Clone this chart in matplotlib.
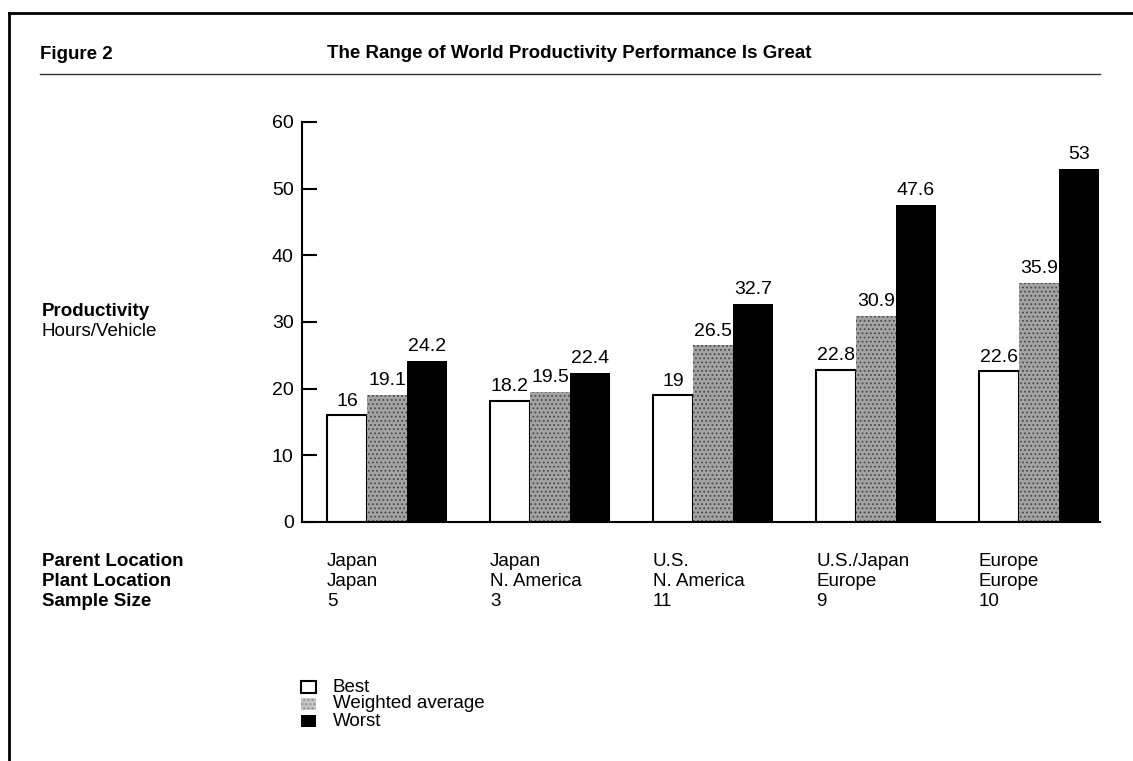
import matplotlib
matplotlib.use("Agg")
import matplotlib.pyplot as plt
from matplotlib import font_manager as fm
from matplotlib.patches import Rectangle
from matplotlib.lines import Line2D
import numpy as np

names = {f.name for f in fm.fontManager.ttflist}
FONT = "Liberation Sans Narrow" if "Liberation Sans Narrow" in names else "Liberation Sans"
plt.rcParams['font.family'] = [FONT, 'DejaVu Sans']
plt.rcParams['hatch.linewidth'] = 0.8

parent = ["Japan", "Japan", "U.S.", "U.S./Japan", "Europe"]
plant = ["Japan", "N. America", "N. America", "Europe", "Europe"]
sample = ["5", "3", "11", "9", "10"]
best = [16, 18.2, 19, 22.8, 22.6]
weighted = [19.1, 19.5, 26.5, 30.9, 35.9]
worst = [24.2, 22.4, 32.7, 47.6, 53]
series_labels = ["Best", "Weighted average", "Worst"]
yticks = [0, 10, 20, 30, 40, 50, 60]

W, H = 1133, 761
fig = plt.figure(figsize=(W/100, H/100), dpi=100)
ax = fig.add_axes([302/W, 1-522/H, 798/W, 400/H])

x = np.arange(len(parent))
w = 40/163
ax.bar(x - w, best, w, facecolor="white", edgecolor="black", linewidth=1.5)
ax.bar(x, weighted, w, facecolor="#a3a3a3", edgecolor="#4a4a4a", hatch="....", linewidth=0)
ax.bar(x + w, worst, w, facecolor="black", edgecolor="black", linewidth=0)

for off, vals in [(-w, best), (0, weighted), (w, worst)]:
    for xi, v in zip(x, vals):
        ax.annotate(f"{v:g}", (xi + off, v), xytext=(0, 4), textcoords="offset points",
                    ha="center", va="bottom", fontsize=14)

ax.set_xlim(-85/163, 4 + 61/163)
ax.set_ylim(0, 60)
ax.set_yticks(yticks)
ax.set_xticks([])
ax.tick_params(axis="y", direction="in", length=11, width=1.5, labelsize=14, pad=6)
for s in ["top", "right"]:
    ax.spines[s].set_visible(False)
ax.spines["left"].set_linewidth(1.5)
ax.spines["bottom"].set_linewidth(1.5)

def fx(px): return px / W
def fy(py): return 1 - py / H

# frame lines
fig.add_artist(Line2D([fx(9), 1], [fy(13), fy(13)], color="black", lw=2))
fig.add_artist(Line2D([fx(9), fx(9)], [fy(13), 0], color="black", lw=2))
fig.add_artist(Line2D([fx(40), fx(1100)], [fy(74), fy(74)], color="#333333", lw=1))

fig.text(fx(40), fy(59), "Figure 2", fontsize=13.5, fontweight="bold", va="baseline")
fig.text(fx(327), fy(58), "The Range of World Productivity Performance Is Great",
         fontsize=13.5, fontweight="bold", ha="left", va="baseline")

fig.text(fx(42), fy(311), "Productivity", fontsize=13.5, fontweight="bold", va="center")
fig.text(fx(42), fy(331), "Hours/Vehicle", fontsize=13.5, va="center")

row_titles = ["Parent Location", "Plant Location", "Sample Size"]
row_y = [562, 581, 601]
for t, yy in zip(row_titles, row_y):
    fig.text(fx(42), fy(yy), t, fontsize=13.5, fontweight="bold", va="center")

for i, (p, pl, s) in enumerate(zip(parent, plant, sample)):
    xl = ax.transData.transform((x[i] - 1.5*w, 0))[0] / W
    for t, yy in zip([p, pl, s], row_y):
        fig.text(xl, fy(yy), t, fontsize=13.5, va="center")

# legend
leg_y = [687, 704, 721]
styles = [dict(facecolor="white", edgecolor="black", linewidth=1.5),
          dict(facecolor="#c4c4c4", edgecolor="#8a8a8a", hatch="....", linewidth=0),
          dict(facecolor="black", edgecolor="black", linewidth=0)]
for lab, yy, st in zip(series_labels, leg_y, styles):
    fig.add_artist(Rectangle((fx(301), fy(yy + 6)), 15/W, 12/H, transform=fig.transFigure, **st))
    fig.text(fx(333), fy(yy), lab, fontsize=13.5, va="center")

fig.savefig("out.png", dpi=100)
